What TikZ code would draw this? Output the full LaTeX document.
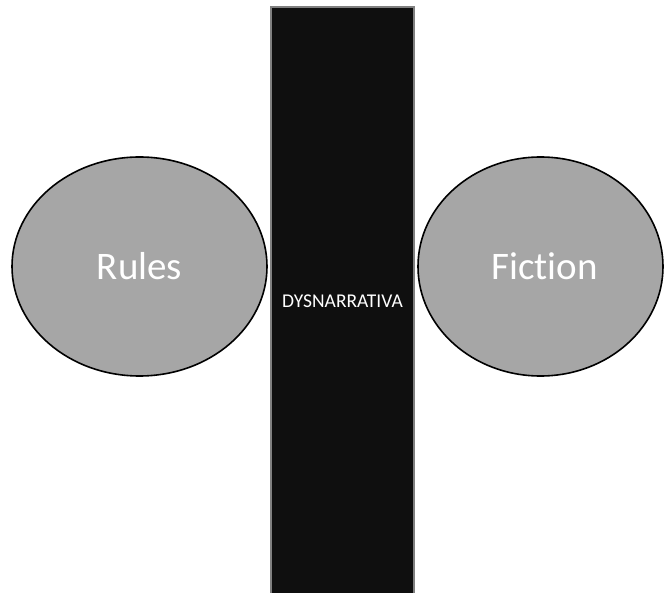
\documentclass[tikz,border=0pt]{standalone}
\usepackage{fontspec}
\setmainfont{Carlito}[Ligatures=NoCommon]
\usetikzlibrary{shapes.geometric}
\definecolor{bubblegray}{HTML}{A6A6A6}
\definecolor{barblack}{HTML}{0F0F0F}
\definecolor{bargray}{HTML}{808080}
\tikzset{bubble/.style={ellipse, draw=black, line width=1.6pt, fill=bubblegray, text=white, inner sep=0pt, font=\fontsize{39}{42}\selectfont}}

\begin{document}
\begin{tikzpicture}[x=1pt,y=-1pt]
        \pgfmathsetmacro{\w}{664}
        \pgfmathsetmacro{\h}{593}
        \useasboundingbox (0,0) rectangle (\w,\h);

        \coordinate (T) at (271,7);
        \coordinate (B) at (414,603);
        %
        \draw[draw=bargray, line width=1.5pt, fill=barblack] (T) rectangle (B);
        \node[text=white, inner sep=0pt, font=\fontsize{19.5}{22}\selectfont] (dys) at (342.5,301) {DYSNARRATIVA};
        %
        \node[bubble, minimum width=255pt, minimum height=219pt] (rules) at (139.5,266.5) {Rules};
        \node[bubble, minimum width=245pt, minimum height=219pt] (fiction) at (540.5,266.5) {\hspace{8pt}Fiction};
    \end{tikzpicture}
\end{document}
